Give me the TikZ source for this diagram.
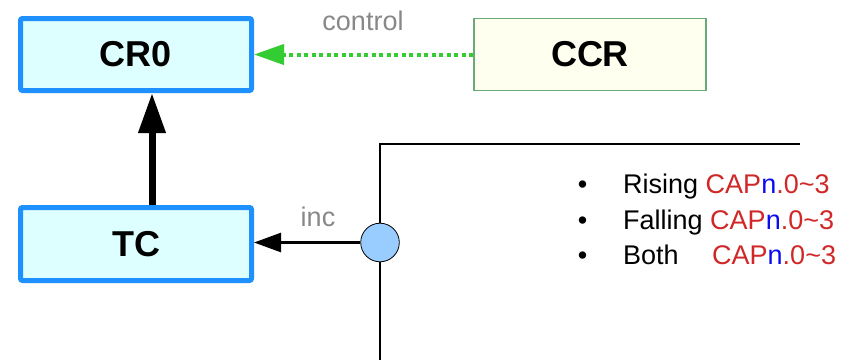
\documentclass[tikz,border=0pt]{standalone}
\usepackage{fontspec}
\setmainfont{Liberation Sans}
\usetikzlibrary{arrows.meta}
\definecolor{boxblue}{HTML}{1E90FF}
\definecolor{boxfill}{HTML}{DEFFFF}
\definecolor{ccrfill}{HTML}{FFFFF0}
\definecolor{ccrline}{HTML}{6AAA7A}
\definecolor{dotgreen}{HTML}{33CC33}
\definecolor{labelgray}{HTML}{888888}
\definecolor{capred}{HTML}{D02828}
\definecolor{capblue}{HTML}{0A0AF0}
\definecolor{circfill}{HTML}{99CCFF}
\tikzset{
  regbox/.style={draw=boxblue, line width=5pt, fill=boxfill, rounded corners=2pt,
    minimum width=231pt, inner sep=0pt, font=\fontsize{36}{40}\selectfont\bfseries},
  ccrbox/.style={draw=ccrline, line width=1.2pt, fill=ccrfill,
    minimum width=232pt, minimum height=72pt, inner sep=0pt, font=\fontsize{36}{40}\selectfont\bfseries},
  lbl/.style={text=labelgray, inner sep=0pt, anchor=base, font=\fontsize{27}{32}\selectfont},
  itemtxt/.style={inner sep=0pt, anchor=base west, font=\fontsize{27}{32}\selectfont},
  bul/.style={inner sep=0pt, anchor=base, font=\fontsize{27}{32}\selectfont},
  wire/.style={line width=2.6pt},
}
\newcommand{\capn}{\textcolor{capred}{CAP}\textcolor{capblue}{n}\textcolor{capred}{.0\textasciitilde 3}}
\begin{document}
\begin{tikzpicture}[x=1pt,y=-1pt]
\useasboundingbox (0,0) rectangle (854,360);
\node[regbox, minimum height=72pt] (cr0) at (136,54.5) {CR0};
\node[regbox, minimum height=73pt] (tc) at (136,244) {TC};
\node[ccrbox] (ccr) at (590,54.5) {CCR};
\node[circle, draw=black, line width=0.8pt, fill=circfill, minimum size=38.6pt, inner sep=0pt] (j) at (380,242.5) {};
\coordinate (corner) at (380,144);
\coordinate (hend) at (800,144);
\coordinate (vend) at (380,360);
% wires
\draw[wire] (j) -- (corner) -- (hend);
\draw[wire] (j) -- (vend);
% inc arrow
\draw[wire, -{Triangle[length=27pt,width=19pt]}] (j.west) -- (j.west -| tc.east);
\node[lbl] (inc) at (318,226) {inc};
% thick arrow
\draw[line width=7pt, -{Triangle[length=40pt,width=26pt]}] ([xshift=16pt]tc.north) -- ([xshift=16pt]cr0.south);
% control arrow
\draw[dotgreen, line width=4pt, dash pattern=on 4pt off 3.5pt, -{Triangle[length=30pt,width=20pt]}] (ccr.west) -- (cr0.east);
\node[lbl] (ctl) at (363,30) {control};
% bullets
\node[bul] (b1) at (582.5,193) {\textbullet};
\node[bul] (b2) at (582.5,229) {\textbullet};
\node[bul] (b3) at (582.5,264) {\textbullet};
\node[itemtxt] (t1) at (623,193) {Rising \capn};
\node[itemtxt] (t2) at (623,229) {Falling \capn};
\node[itemtxt] (t3) at (623,264) {Both};
\node[itemtxt] (t3b) at (712,264) {\capn};
\end{tikzpicture}
\end{document}
